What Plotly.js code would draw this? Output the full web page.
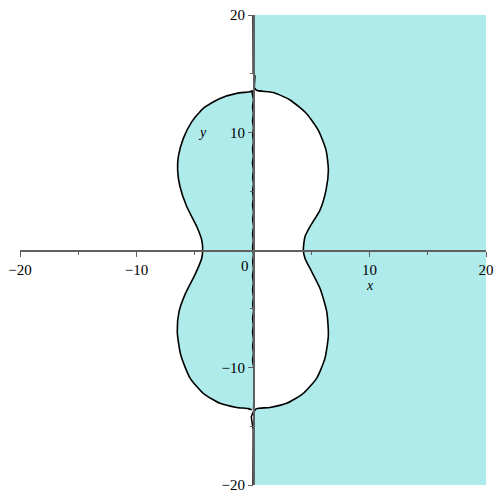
<!DOCTYPE html>
<html>
<head>
<meta charset="utf-8">
<script src="https://cdn.plot.ly/plotly-3.0.1.min.js"></script>
<style>html,body{margin:0;padding:0;background:#fff;}#plot{width:500px;height:500px;}</style>
</head>
<body>
<div id="plot"></div>
<script>
// Right half of the closed curve (top to bottom)
var rightX = [0.15, 0.3, 1.74, 3.18, 4.6, 5.6, 6.27, 6.47, 6.27, 5.75, 4.9, 4.46, 4.32, 4.46, 5.04, 5.75, 6.33, 6.47, 6.18, 5.47, 4.32, 2.89, 1.46, 0.3, 0.12];
var rightY = [13.8, 13.6, 13.4, 12.77, 11.6, 10.2, 8.5, 6.8, 5.1, 3.4, 2.0, 1.13, 0.0, -0.7, -1.85, -3.26, -5.25, -7.23, -9.2, -10.9, -12.2, -13.05, -13.4, -13.5, -13.7];
// Left half of the closed curve (top to bottom)
var leftX = [-0.05, -0.26, -1.4, -2.83, -4.27, -5.26, -5.98, -6.41, -6.47, -6.27, -5.69, -4.83, -4.4, -4.32, -4.4, -4.98, -5.84, -6.35, -6.5, -6.2, -5.4, -4.27, -2.83, -1.4, -0.4, -0.11];
var leftY = [13.55, 13.47, 13.33, 12.9, 12.06, 10.9, 9.5, 7.94, 6.8, 5.4, 3.7, 2.0, 0.85, 0.0, -0.7, -2.1, -3.8, -5.25, -6.95, -8.94, -10.9, -12.2, -13.05, -13.4, -13.5, -13.6];
// Jagged line along x = 0 (top to bottom)
var wallX = [0.0, 0.0, 0.02, 0.17, 0.15, 0.1, -0.08, 0.04, -0.04, 0.03, -0.04, 0.04, -0.03, 0.04, -0.04, 0.03, -0.05, 0.04, -0.03, 0.04, -0.04, 0.03, -0.04, 0.04, -0.03, 0.05, -0.04, 0.03, -0.04, 0.04, -0.03, 0.04, -0.04, 0.03, -0.04, 0.04, -0.03, 0.05, -0.04, 0.03, -0.04, 0.04, -0.03, 0.04, -0.04, 0.06, 0.1, 0.05, -0.15, -0.1, 0.02, 0.0];
var wallY = [20, 16, 15.1, 14.8, 14.2, 13.7, 13.4, 12.8, 12.2, 11.6, 11.0, 10.4, 9.8, 9.2, 8.6, 8.0, 7.4, 6.8, 6.2, 5.6, 5.0, 4.4, 3.8, 3.2, 2.6, 2.0, 1.4, 0.8, 0.2, -0.4, -1.0, -1.6, -2.2, -2.8, -3.4, -4.0, -4.6, -5.2, -5.8, -6.4, -7.0, -7.6, -8.2, -8.8, -9.4, -10.0, -11.0, -13.7, -14.2, -14.7, -15.3, -20];
// Tick labels
var tickVals = [-20, -10, 0, 10, 20];
var tickText = ['\u221220', '\u221210', '', '10', '20'];

var fillColor = 'rgb(175,235,235)';

// Right filled region: rectangle x in [0,20] with the curve's right half cut out
var rx = [0, 20, 20, 0].concat(rightX.slice().reverse(), [0]);
var ry = [20, 20, -20, -20].concat(rightY.slice().reverse(), [20]);
// Left filled region: inside the left half of the curve
var lx = leftX.concat([0, 0]);
var ly = leftY.concat([-13.6, 13.55]);

var traces = [
  {x: rx, y: ry, type: 'scatter', mode: 'lines', fill: 'toself', fillcolor: fillColor, line: {width: 0}, hoverinfo: 'skip'},
  {x: lx, y: ly, type: 'scatter', mode: 'lines', fill: 'toself', fillcolor: fillColor, line: {width: 0}, hoverinfo: 'skip'},
  {x: rightX, y: rightY, type: 'scatter', mode: 'lines', line: {color: '#000', width: 1.6, shape: 'spline', smoothing: 0.6}},
  {x: leftX, y: leftY, type: 'scatter', mode: 'lines', line: {color: '#000', width: 1.6, shape: 'spline', smoothing: 0.6}},
  {x: wallX, y: wallY, type: 'scatter', mode: 'lines', line: {color: '#000', width: 1.5}}
];

var axisCommon = {
  range: [-20, 20],
  showgrid: false,
  zeroline: false,
  showline: true,
  linecolor: '#606060',
  linewidth: 1.5,
  ticks: 'outside',
  ticklen: 5,
  tickwidth: 1,
  tickcolor: '#606060',
  tickmode: 'array',
  tickvals: tickVals,
  ticktext: tickText,
  tickfont: {family: 'Liberation Serif, Times New Roman, serif', size: 15, color: '#000'},
  minor: {tickmode: 'linear', tick0: 0, dtick: 5, ticklen: 3, tickcolor: '#606060', showgrid: false},
  anchor: 'free',
  position: 0.5,
  fixedrange: true
};

var layout = {
  width: 500,
  height: 500,
  margin: {l: 20, r: 14, t: 15, b: 15},
  paper_bgcolor: '#fff',
  plot_bgcolor: '#fff',
  showlegend: false,
  xaxis: Object.assign({}, axisCommon),
  yaxis: Object.assign({}, axisCommon),
  annotations: [
    {x: -0.7, y: -1.4, xref: 'x', yref: 'y', text: '0', showarrow: false, font: {family: 'Liberation Serif, Times New Roman, serif', size: 15, color: '#000'}},
    {x: 10, y: -3.0, xref: 'x', yref: 'y', text: '<i>x</i>', showarrow: false, font: {family: 'Liberation Serif, Times New Roman, serif', size: 14, color: '#000'}},
    {x: -4.3, y: 10, xref: 'x', yref: 'y', text: '<i>y</i>', showarrow: false, font: {family: 'Liberation Serif, Times New Roman, serif', size: 14, color: '#000'}}
  ]
};

Plotly.newPlot('plot', traces, layout, {displayModeBar: false, staticPlot: true});
</script>
</body>
</html>
